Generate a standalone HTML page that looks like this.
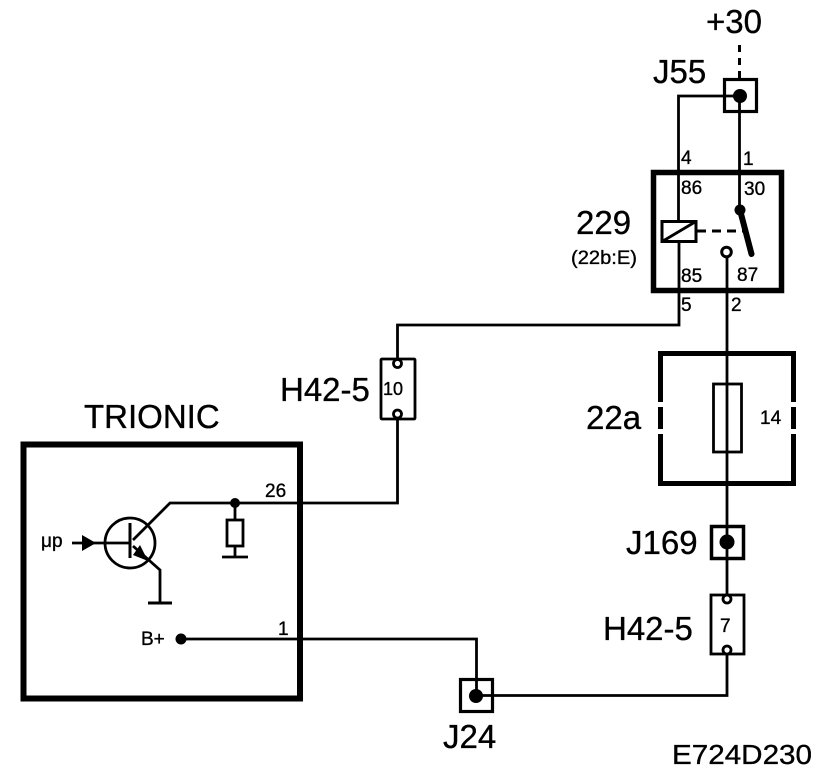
<!DOCTYPE html>
<html>
<head>
<meta charset="utf-8">
<style>
html,body{margin:0;padding:0;background:#fff;width:832px;height:776px;overflow:hidden}
svg{display:block}
text{font-family:"Liberation Sans",sans-serif;fill:#000;stroke:#000;stroke-width:.35px}
.b{font-size:33px}
.s{font-size:19px}
</style>
</head>
<body>
<svg width="832" height="776" viewBox="0 0 832 776" xmlns="http://www.w3.org/2000/svg">
<g fill="none" stroke="#000" stroke-width="2.8">
  <!-- +30 feed -->
  <line x1="739.5" y1="45" x2="739.5" y2="78" stroke-width="3" stroke-dasharray="7 6"/>
  <!-- J55 -->
  <rect x="724.5" y="79.5" width="32" height="32" stroke-width="3.2"/>
  <polyline points="739,96 678.5,96 678.5,222"/>
  <line x1="739.5" y1="96" x2="739.5" y2="210"/>
  <!-- relay -->
  <rect x="653.5" y="172.5" width="128" height="118" stroke-width="5.5"/>
  <rect x="662" y="221.5" width="34" height="20" stroke-width="3"/>
  <line x1="663" y1="241" x2="695" y2="222"/>
  <polyline points="679,242 679,325 397.5,325 397.5,359"/>
  <line x1="697" y1="231" x2="744" y2="231" stroke-width="3" stroke-dasharray="9 6"/>
  <line x1="740" y1="210" x2="751.5" y2="254" stroke-width="6" stroke-linecap="round"/>
  <circle cx="726.5" cy="252" r="4.8" stroke-width="3"/>
  <line x1="727" y1="257" x2="727" y2="598"/>
  <!-- H42-5 / 10 -->
  <rect x="381" y="359" width="34" height="60" rx="1"/>
  <circle cx="397.5" cy="363.500" r="4" fill="#fff"/>
  <circle cx="397.5" cy="414" r="4" fill="#fff"/>
  <polyline points="397.5,418 397.5,503 170,503 133,540"/>
  <!-- TRIONIC -->
  <rect x="23.500" y="444.500" width="276.500" height="254" stroke-width="6"/>
  <circle cx="130" cy="543" r="25"/>
  <line x1="130" y1="523" x2="130" y2="558" stroke-width="3"/>
  <line x1="72" y1="543" x2="130" y2="543"/>
  <polyline points="133,546 160,570 160,603"/>
  <line x1="148" y1="603" x2="172" y2="603" stroke-width="3"/>
  <line x1="235" y1="503" x2="235" y2="520"/>
  <rect x="227" y="520" width="16" height="26"/>
  <line x1="235" y1="546" x2="235" y2="557"/>
  <line x1="222" y1="557" x2="248" y2="557"/>
  <polyline points="181,639 476.500,639 476.500,696"/>
  <!-- J24 -->
  <rect x="460.500" y="679.500" width="32" height="32" stroke-width="3.2"/>
  <polyline points="476,695.500 727,695.500 727,652"/>
  <!-- 22a -->
  <path d="M660.500,402 V353.500 H793.500 V402 M660.500,407 V429 M793.500,407 V429 M660.500,434 V483.500 H793.500 V434" stroke-width="5"/>
  <rect x="713.500" y="384" width="28" height="68"/>
  <!-- J169 -->
  <rect x="711.500" y="526.500" width="32" height="32" stroke-width="3.500"/>
  <!-- H42-5 / 7 -->
  <rect x="711" y="595" width="33" height="59"/>
  <circle cx="727" cy="599" r="4" fill="#fff"/>
  <circle cx="727" cy="650" r="4" fill="#fff"/>
</g>
<g fill="#000">
  <circle cx="740" cy="96" r="7"/>
  <circle cx="740" cy="210" r="5.500"/>
  <circle cx="235" cy="503" r="5"/>
  <circle cx="181" cy="639" r="5.500"/>
  <circle cx="476" cy="696" r="7"/>
  <circle cx="727" cy="542" r="7.500"/>
  <polygon points="82,535 96,543 82,551"/>
  <polygon points="133,555 140,545 148,561"/>
</g>
<text class="b" x="706" y="33">+30</text>
<text class="b" x="653" y="83">J55</text>
<text class="b" x="576" y="234">229</text>
<text x="571" y="264" font-size="19" textLength="66" lengthAdjust="spacingAndGlyphs">(22b:E)</text>
<text class="s" x="681" y="164">4</text>
<text class="s" x="743" y="165">1</text>
<text class="s" x="681" y="194">86</text>
<text class="s" x="744" y="195">30</text>
<text class="s" x="681" y="282">85</text>
<text class="s" x="737" y="281">87</text>
<text class="s" x="681" y="311">5</text>
<text class="s" x="731" y="311">2</text>
<text x="383" y="395" font-size="18">10</text>
<text class="b" x="280" y="401">H42-5</text>
<text class="b" x="84" y="428">TRIONIC</text>
<text class="s" x="265" y="497">26</text>
<text class="s" x="278" y="635">1</text>
<text class="s" x="41" y="547">μp</text>
<text class="s" x="141" y="645">B+</text>
<text class="s" x="760" y="424">14</text>
<text class="s" x="720" y="632">7</text>
<text class="b" x="586" y="429">22a</text>
<text class="b" x="626" y="554">J169</text>
<text class="b" x="603" y="640">H42-5</text>
<text class="b" x="443" y="748">J24</text>
<text x="672" y="764" font-size="28" textLength="140" lengthAdjust="spacingAndGlyphs">E724D230</text>
</svg>
</body>
</html>
